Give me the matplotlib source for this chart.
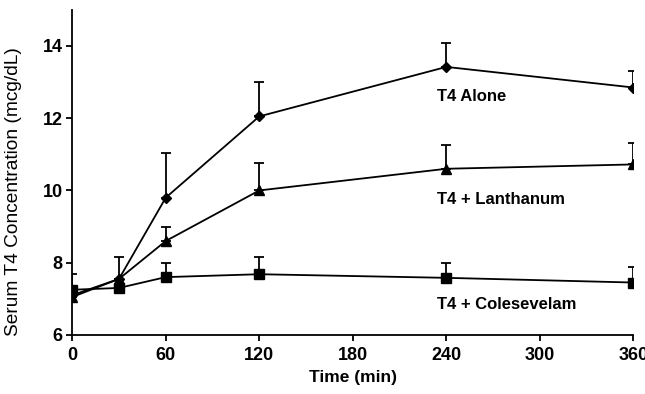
import matplotlib.pyplot as plt

time = [0, 30, 60, 120, 240, 360]
alone = [7.1, 7.55, 9.8, 12.05, 13.42, 12.85]
alone_err = [0.0, 0.6, 1.25, 0.95, 0.66, 0.47]
lanthanum = [7.05, 7.55, 8.6, 10.0, 10.6, 10.72]
lanthanum_err = [0.0, 0.0, 0.4, 0.75, 0.65, 0.6]
colesevelam = [7.25, 7.3, 7.6, 7.68, 7.58, 7.45]
colesevelam_err = [0.43, 0.0, 0.4, 0.47, 0.4, 0.43]

plt.rcParams['font.family'] = ['Liberation Sans', 'DejaVu Sans']
plt.rcParams['font.weight'] = 'bold'

fig = plt.figure(figsize=(6.45, 3.94), dpi=100)
ax = fig.add_axes([0.112, 0.15, 0.87, 0.825])

series = [(alone, alone_err, 'D', 5.5), (lanthanum, lanthanum_err, '^', 7), (colesevelam, colesevelam_err, 's', 6.5)]
for vals, err, mk, ms in series:
    ax.errorbar(time, vals, yerr=[[0] * len(err), err], color='black', lw=1.3,
                marker=mk, markersize=ms, capsize=3.5, elinewidth=1.3, capthick=1.3)

ax.text(234, 12.6, 'T4 Alone', fontsize=12, fontweight='bold', va='center')
ax.text(234, 9.74, 'T4 + Lanthanum', fontsize=12, fontweight='bold', va='center')
ax.text(234, 6.83, 'T4 + Colesevelam', fontsize=12, fontweight='bold', va='center')

ax.set_xlim(0, 360)
ax.set_ylim(6, 15)
ax.set_xticks([0, 60, 120, 180, 240, 300, 360])
ax.set_yticks([6, 8, 10, 12, 14])
ax.spines['top'].set_visible(False)
ax.spines['right'].set_visible(False)
ax.spines['left'].set_linewidth(1.3)
ax.spines['bottom'].set_linewidth(1.3)
ax.tick_params(direction='out', length=4, width=1.3, labelsize=13)
ax.tick_params(axis='x', pad=5)
ax.tick_params(axis='y', pad=3)
for lbl in ax.get_xticklabels() + ax.get_yticklabels():
    lbl.set_fontweight('bold')
ax.set_xlabel('Time (min)', fontsize=12.5, fontweight='bold', labelpad=4)
ax.set_ylabel('Serum T4 Concentration (mcg/dL)', fontsize=13.8, fontweight='normal')
ax.yaxis.set_label_coords(-0.089, 0.44)

fig.savefig('out.png', dpi=100)
